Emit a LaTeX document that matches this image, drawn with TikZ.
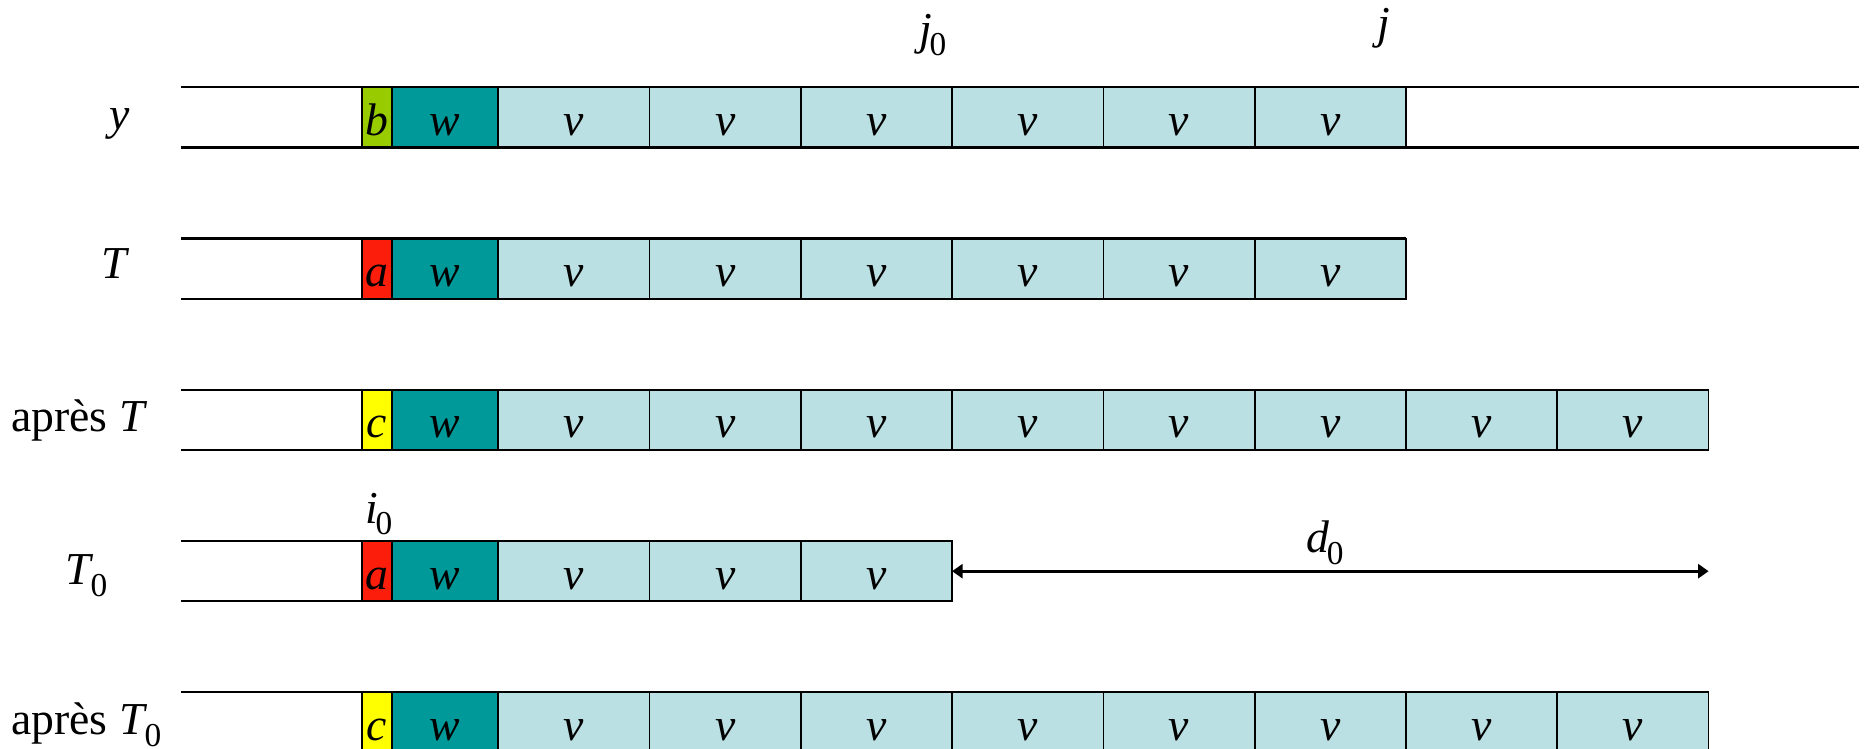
\documentclass[tikz,border=0pt]{standalone}
\usepackage{fontspec}
\setmainfont{Liberation Serif}
\usetikzlibrary{positioning,arrows.meta}

\definecolor{bgreen}{RGB}{153,204,0}
\definecolor{wteal}{RGB}{0,153,153}
\definecolor{vcyan}{RGB}{187,224,227}
\definecolor{ared}{RGB}{252,30,10}
\definecolor{cyell}{RGB}{255,255,0}

% italic letter with an upright, lowered index
\newcommand{\idx}[2]{\textit{#1}\kern-0.06em\raisebox{-0.25em}{\fontsize{19}{19}\selectfont #2}}

\begin{document}
\begin{tikzpicture}[
  x=0.02cm, y=0.02cm, font=\fontsize{26}{31}\selectfont,
  cell/.style={draw=black, line width=1pt, inner sep=0pt, outer sep=0pt,
    minimum height=1.206cm, text height=23pt, text depth=2.6pt,
    font=\fontsize{26}{31}\selectfont\itshape},
  lcell/.style={cell, minimum width=0.6cm},
  wcell/.style={cell, fill=wteal, minimum width=2.12cm},
  vcell/.style={cell, fill=vcyan, minimum width=3.026cm},
  rail/.style={line width=1.3pt},
  gap/.style={{Triangle[length=6pt,width=8pt]}-{Triangle[length=6pt,width=8pt]},
    line width=1.6pt}
]
% 1868 by 749 canvas, the last row runs off the bottom edge.
\useasboundingbox (0,0) rectangle (1868,749);

% Row y: b, w, six v, then an open tail to the right.
\coordinate (y-l) at (181,631.7);
\coordinate (y-r) at (1859,631.7);
\node[lcell, fill=bgreen] (y-b) at (377,631.7) {b};
\node[wcell] (y-w) at (445.2,631.7) {w};
\foreach \i in {1,...,6}
  \node[vcell] (y-v\i) at ({498.2+151.3*(\i-0.5)},631.7) {v};
\draw[rail] (y-l |- y-b.north) -- (y-r |- y-b.north);
\draw[rail] (y-l |- y-b.south) -- (y-r |- y-b.south);

% Row T: a, w, six v.
\coordinate (t-l) at (181,480.4);
\node[lcell, fill=ared] (t-a) at (377,480.4) {a};
\node[wcell] (t-w) at (445.2,480.4) {w};
\foreach \i in {1,...,6}
  \node[vcell] (t-v\i) at ({498.2+151.3*(\i-0.5)},480.4) {v};
\draw[rail] (t-l |- t-a.north) -- (t-v6.north east);
\draw[rail] (t-l |- t-a.south) -- (t-v6.south east);

% Row after T: c, w, eight v.
\coordinate (at-l) at (181,329.1);
\node[lcell, fill=cyell] (at-c) at (377,329.1) {c};
\node[wcell] (at-w) at (445.2,329.1) {w};
\foreach \i in {1,...,8}
  \node[vcell] (at-v\i) at ({498.2+151.3*(\i-0.5)},329.1) {v};
\draw[rail] (at-l |- at-c.north) -- (at-v8.north east);
\draw[rail] (at-l |- at-c.south) -- (at-v8.south east);

% Row T0: a, w, three v and the gap d0.
\coordinate (t0-l) at (181,177.8);
\node[lcell, fill=ared] (t0-a) at (377,177.8) {a};
\node[wcell] (t0-w) at (445.2,177.8) {w};
\foreach \i in {1,...,3}
  \node[vcell] (t0-v\i) at ({498.2+151.3*(\i-0.5)},177.8) {v};
\draw[rail] (t0-l |- t0-a.north) -- (t0-v3.north east);
\draw[rail] (t0-l |- t0-a.south) -- (t0-v3.south east);
\coordinate (gap-end) at (1708.6,177.8);
\draw[gap] (t0-v3.east) -- (gap-end);

% Row after T0: c, w, eight v.
\coordinate (at0-l) at (181,26.5);
\node[lcell, fill=cyell] (at0-c) at (377,26.5) {c};
\node[wcell] (at0-w) at (445.2,26.5) {w};
\foreach \i in {1,...,8}
  \node[vcell] (at0-v\i) at ({498.2+151.3*(\i-0.5)},26.5) {v};
\draw[rail] (at0-l |- at0-c.north) -- (at0-v8.north east);
\draw[rail] (at0-l |- at0-c.south) -- (at0-v8.south east);

% Row names on the left.
\node (y-name) at (120,625.5) {\textit{y}};
\node (t-name) at (116,485) {\textit{T}};
\node[anchor=base west, inner sep=0pt] (at-name) at (11,317) {après \textit{T}};
\node[anchor=base west, inner sep=0pt] (t0-name) at (65,164) {\idx{T}{0}};
\node[anchor=base west, inner sep=0pt] (at0-name) at (11,14) {après \idx{T}{0}};

% Position marks.
\node (j0-mark) at (933,714) {\idx{j}{0}};
\node (j-mark) at (1384,721) {\textit{j}};
\node (i0-mark) at (379,235) {\idx{i}{0}};
\node (d0-mark) at (1325,206) {\idx{d}{0}};
\end{tikzpicture}
\end{document}
